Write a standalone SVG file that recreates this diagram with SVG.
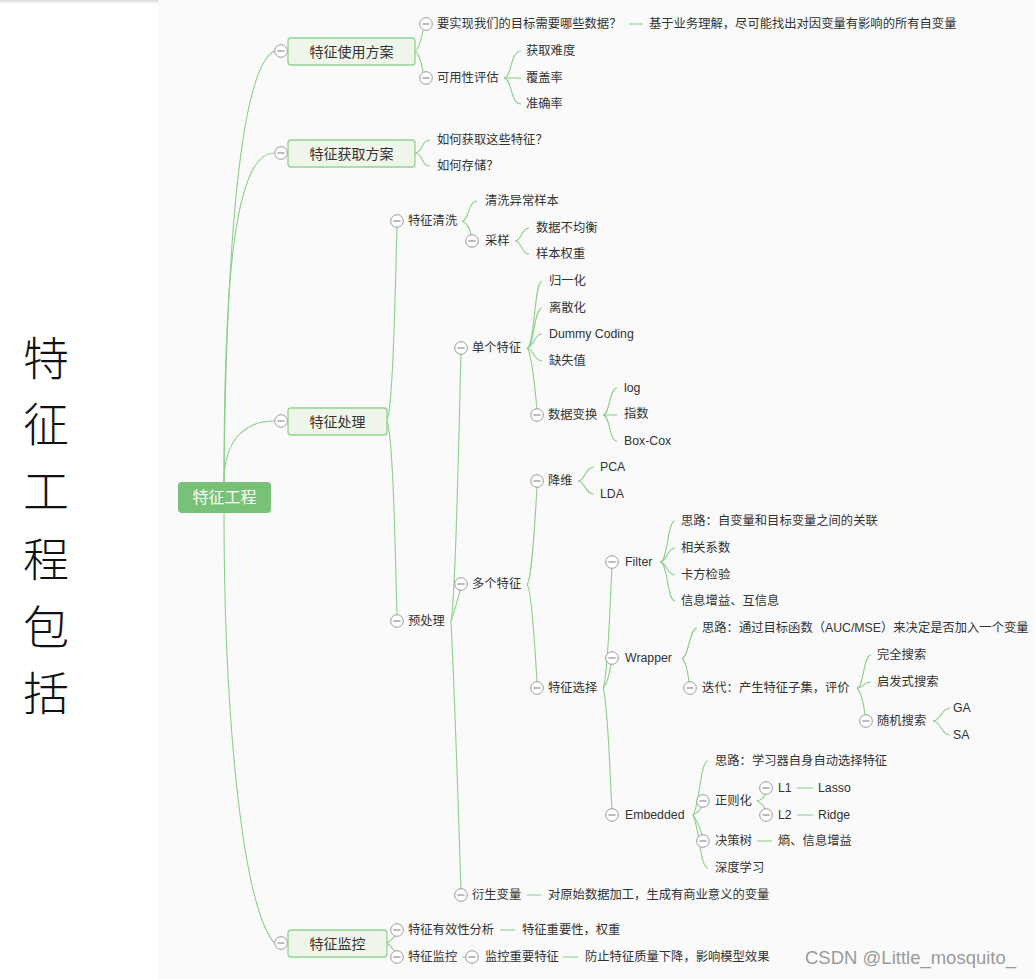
<svg xmlns="http://www.w3.org/2000/svg" xmlns:xlink="http://www.w3.org/1999/xlink" width="1035" height="979" viewBox="0 0 1035 979">
<defs>
<linearGradient id="sh" x1="0" y1="0" x2="0" y2="1"><stop offset="0" stop-color="#d8d8d8"/><stop offset="1" stop-color="#ffffff"/></linearGradient>
<g id="m"><circle r="6.3" fill="#fff" stroke="#9a9a9a" stroke-width="1"/><line x1="-3.6" y1="0" x2="3.6" y2="0" stroke="#7a7a7a" stroke-width="1"/></g>
<style>
.t{font-family:"Liberation Sans","Noto Sans CJK SC",sans-serif;font-size:12.3px;fill:#333;dominant-baseline:central}
.l1{font-family:"Liberation Sans","Noto Sans CJK SC",sans-serif;font-size:14px;fill:#333;text-anchor:middle;dominant-baseline:central}
.rt{font-family:"Liberation Sans","Noto Sans CJK SC",sans-serif;font-size:16px;fill:#fff;text-anchor:middle;dominant-baseline:central}
.box{fill:#eef6ea;stroke:#92d392;stroke-width:1.3}
.conn path{fill:none;stroke:#8dcf8d;stroke-width:1.1}
.big{font-family:"Noto Sans CJK SC",sans-serif;font-size:46px;font-weight:300;fill:#111;text-anchor:middle;dominant-baseline:central}
.wm{font-family:"Liberation Sans",sans-serif;font-size:18.5px;fill:#9a9a9a}
</style>
</defs>
<rect x="0" y="0" width="1035" height="979" fill="#fafafa"/>
<rect x="0" y="0" width="158" height="979" fill="#ffffff"/>
<rect x="0" y="0" width="158" height="4" fill="url(#sh)"/>
<g id="title">
<text class="big" x="46" y="355">特</text>
<text class="big" x="46" y="421">征</text>
<text class="big" x="46" y="488">工</text>
<text class="big" x="46" y="556">程</text>
<text class="big" x="46" y="624">包</text>
<text class="big" x="46" y="690">括</text>
</g>
<g class="conn" id="connectors">
<path d="M224,482 C226,250 240,70 274,51"/>
<path d="M224,482 C224,300 232,153 274,153"/>
<path d="M224,482 C224,440 245,421 274,421"/>
<path d="M224,513 C224,700 240,900 274,943"/>
<path d="M415,51 C420,48 422,36 423,30"/>
<path d="M415,51 C420,54 422,66 423,72"/>
<path d="M629,24 L643,24"/>
<path d="M504,78 C512,78 510,51 521,51"/>
<path d="M504,78 L521,78"/>
<path d="M504,78 C512,78 510,104 521,104"/>
<path d="M415,153 C423,153 421,140 430,140"/>
<path d="M415,153 C423,153 421,166 430,166"/>
<path d="M387,421 C393,405 395,300 397,227"/>
<path d="M387,421 C393,437 395,540 397,615"/>
<path d="M462,221 C469,221 468,201 477,201"/>
<path d="M462,221 C467,223 470,230 471,235"/>
<path d="M515,241 C522,241 521,228 529,228"/>
<path d="M515,241 C522,241 521,254 529,254"/>
<path d="M451,621 C456,600 459,420 461,354"/>
<path d="M451,621 C454,612 458,600 460,590"/>
<path d="M451,621 C455,700 459,830 461,889"/>
<path d="M527,348 C535,348 534,281 542,281"/>
<path d="M527,348 C534,348 534,308 542,308"/>
<path d="M527,348 C533,348 534,334 542,334"/>
<path d="M527,348 C533,348 534,361 542,361"/>
<path d="M527,348 C532,352 535,390 537,409"/>
<path d="M603,415 C610,415 609,388 617,388"/>
<path d="M603,415 L617,415"/>
<path d="M603,415 C610,415 609,441 617,441"/>
<path d="M527,584 C532,580 535,520 537,487"/>
<path d="M527,584 C532,590 535,650 537,682"/>
<path d="M578,481 C585,481 585,467 594,467"/>
<path d="M578,481 C585,481 585,494 594,494"/>
<path d="M603,688 C608,680 610,600 612,568"/>
<path d="M603,688 C607,684 610,672 611,664"/>
<path d="M603,688 C608,700 610,780 612,809"/>
<path d="M660,562 C668,562 667,521 675,521"/>
<path d="M660,562 C667,562 667,548 675,548"/>
<path d="M660,562 C667,562 667,575 675,575"/>
<path d="M660,562 C668,562 667,601 675,601"/>
<path d="M682,658 C689,658 689,628 697,628"/>
<path d="M682,658 C686,662 688,674 689,682"/>
<path d="M857,688 C864,688 863,655 871,655"/>
<path d="M857,688 C864,688 863,682 871,682"/>
<path d="M857,688 C861,692 864,705 865,715"/>
<path d="M933,721 C941,721 941,708 950,708"/>
<path d="M933,721 C941,721 941,735 950,735"/>
<path d="M693,815 C700,805 700,761 708,761"/>
<path d="M693,815 C697,813 700,810 702,807"/>
<path d="M693,815 C697,820 700,828 702,835"/>
<path d="M693,815 C700,830 700,868 708,868"/>
<path d="M757,801 C761,800 764,798 765,795"/>
<path d="M757,801 C761,803 764,806 765,809"/>
<path d="M797,788 L813,788"/>
<path d="M797,815 L813,815"/>
<path d="M757,841 L772,841"/>
<path d="M527,895 L541,895"/>
<path d="M387,943 C391,941 393,938 395,936"/>
<path d="M387,943 C391,946 393,950 395,951"/>
<path d="M500,930 L515,930"/>
<path d="M462,957 L466,957"/>
<path d="M563,957 L578,957"/>
</g>
<g id="root">
<rect x="178" y="482" width="93" height="31" rx="4" fill="#77c277"/>
<text class="rt" x="224.5" y="497.5">特征工程</text>
</g>
<g id="n1"><use xlink:href="#m" x="281" y="51"/><rect class="box" x="288" y="38" width="127" height="27" rx="3"/><text class="l1" x="351.5" y="51.5">特征使用方案</text></g>
<g id="n2"><use xlink:href="#m" x="281" y="153"/><rect class="box" x="288" y="140" width="127" height="27" rx="3"/><text class="l1" x="351.5" y="153.5">特征获取方案</text></g>
<g id="n3"><use xlink:href="#m" x="281" y="421"/><rect class="box" x="288" y="408" width="99" height="27" rx="3"/><text class="l1" x="337.5" y="421.5">特征处理</text></g>
<g id="n4"><use xlink:href="#m" x="281" y="943"/><rect class="box" x="288" y="930" width="99" height="27" rx="3"/><text class="l1" x="337.5" y="943.5">特征监控</text></g>
<g id="n1a"><use xlink:href="#m" x="426" y="24"/><text class="t" x="437" y="24">要实现我们的目标需要哪些数据？</text></g>
<g id="n1a1"><text class="t" x="649" y="24">基于业务理解，尽可能找出对因变量有影响的所有自变量</text></g>
<g id="n1b"><use xlink:href="#m" x="426" y="78"/><text class="t" x="437" y="78">可用性评估</text></g>
<g id="n1b1"><text class="t" x="526" y="51">获取难度</text></g>
<g id="n1b2"><text class="t" x="526" y="78">覆盖率</text></g>
<g id="n1b3"><text class="t" x="526" y="104">准确率</text></g>
<g id="n2a"><text class="t" x="437" y="140">如何获取这些特征？</text></g>
<g id="n2b"><text class="t" x="437" y="166">如何存储？</text></g>
<g id="n3a"><use xlink:href="#m" x="397" y="221"/><text class="t" x="408" y="221">特征清洗</text></g>
<g id="n3a1"><text class="t" x="485" y="201">清洗异常样本</text></g>
<g id="n3a2"><use xlink:href="#m" x="472" y="241"/><text class="t" x="485" y="241">采样</text></g>
<g id="n3a2a"><text class="t" x="536" y="228">数据不均衡</text></g>
<g id="n3a2b"><text class="t" x="536" y="254">样本权重</text></g>
<g id="n3b"><use xlink:href="#m" x="397" y="621"/><text class="t" x="408" y="621">预处理</text></g>
<g id="n3b1"><use xlink:href="#m" x="461" y="348"/><text class="t" x="472" y="348">单个特征</text></g>
<g id="n3b1a"><text class="t" x="549" y="281">归一化</text></g>
<g id="n3b1b"><text class="t" x="549" y="308">离散化</text></g>
<g id="n3b1c"><text class="t" x="549" y="334">Dummy Coding</text></g>
<g id="n3b1d"><text class="t" x="549" y="361">缺失值</text></g>
<g id="n3b1e"><use xlink:href="#m" x="537" y="415"/><text class="t" x="548" y="415">数据变换</text></g>
<g id="n3b1e1"><text class="t" x="624" y="388">log</text></g>
<g id="n3b1e2"><text class="t" x="624" y="414">指数</text></g>
<g id="n3b1e3"><text class="t" x="624" y="441">Box-Cox</text></g>
<g id="n3b2"><use xlink:href="#m" x="461" y="584"/><text class="t" x="472" y="584">多个特征</text></g>
<g id="n3b2a"><use xlink:href="#m" x="537" y="481"/><text class="t" x="548" y="481">降维</text></g>
<g id="n3b2a1"><text class="t" x="600" y="467">PCA</text></g>
<g id="n3b2a2"><text class="t" x="600" y="494">LDA</text></g>
<g id="n3b2b"><use xlink:href="#m" x="537" y="688"/><text class="t" x="548" y="688">特征选择</text></g>
<g id="filter"><use xlink:href="#m" x="612" y="562"/><text class="t" x="625" y="562">Filter</text></g>
<g id="f1"><text class="t" x="681" y="521">思路：自变量和目标变量之间的关联</text></g>
<g id="f2"><text class="t" x="681" y="548">相关系数</text></g>
<g id="f3"><text class="t" x="681" y="575">卡方检验</text></g>
<g id="f4"><text class="t" x="681" y="601">信息增益、互信息</text></g>
<g id="wrapper"><use xlink:href="#m" x="612" y="658"/><text class="t" x="625" y="658">Wrapper</text></g>
<g id="w1"><text class="t" x="702" y="628">思路：通过目标函数（AUC/MSE）来决定是否加入一个变量</text></g>
<g id="w2"><use xlink:href="#m" x="690" y="688"/><text class="t" x="702" y="688">迭代：产生特征子集，评价</text></g>
<g id="w2a"><text class="t" x="877" y="655">完全搜索</text></g>
<g id="w2b"><text class="t" x="877" y="682">启发式搜索</text></g>
<g id="w2c"><use xlink:href="#m" x="866" y="721"/><text class="t" x="877" y="721">随机搜索</text></g>
<g id="ga"><text class="t" x="953" y="708">GA</text></g>
<g id="sa"><text class="t" x="953" y="735">SA</text></g>
<g id="embedded"><use xlink:href="#m" x="612" y="815"/><text class="t" x="625" y="815">Embedded</text></g>
<g id="e1"><text class="t" x="715" y="761">思路：学习器自身自动选择特征</text></g>
<g id="e2"><use xlink:href="#m" x="703" y="801"/><text class="t" x="715" y="801">正则化</text></g>
<g id="l1"><use xlink:href="#m" x="766" y="788"/><text class="t" x="778" y="788">L1</text></g>
<g id="lasso"><text class="t" x="818" y="788">Lasso</text></g>
<g id="l2"><use xlink:href="#m" x="766" y="815"/><text class="t" x="778" y="815">L2</text></g>
<g id="ridge"><text class="t" x="818" y="815">Ridge</text></g>
<g id="e3"><use xlink:href="#m" x="703" y="841"/><text class="t" x="715" y="841">决策树</text></g>
<g id="e3a"><text class="t" x="778" y="841">熵、信息增益</text></g>
<g id="e4"><text class="t" x="715" y="868">深度学习</text></g>
<g id="n3b3"><use xlink:href="#m" x="461" y="895"/><text class="t" x="472" y="895">衍生变量</text></g>
<g id="n3b3a"><text class="t" x="548" y="895">对原始数据加工，生成有商业意义的变量</text></g>
<g id="n4a"><use xlink:href="#m" x="397" y="930"/><text class="t" x="408" y="930">特征有效性分析</text></g>
<g id="n4a1"><text class="t" x="522" y="930">特征重要性，权重</text></g>
<g id="n4b"><use xlink:href="#m" x="397" y="957"/><text class="t" x="408" y="957">特征监控</text></g>
<g id="n4b1"><use xlink:href="#m" x="472" y="957"/><text class="t" x="485" y="957">监控重要特征</text></g>
<g id="n4b1a"><text class="t" x="585" y="957">防止特征质量下降，影响模型效果</text></g>
<text class="wm" x="805" y="964">CSDN @Little_mosquito_</text>
</svg>
